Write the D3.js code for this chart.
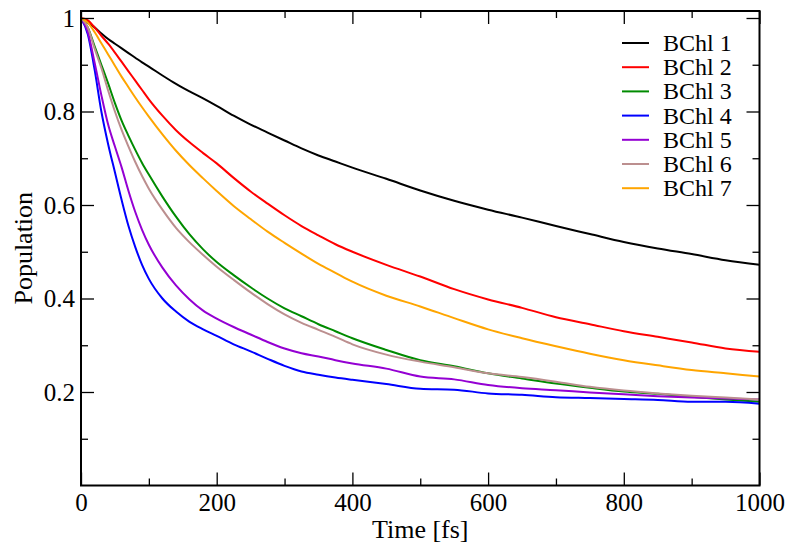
<!DOCTYPE html>
<html><head><meta charset="utf-8">
<script src="https://cdn.jsdelivr.net/npm/d3@7"></script>
<style>body{margin:0;background:#fff}svg{display:block}
text{font-family:'Liberation Serif','Times New Roman',serif !important;}</style>
</head><body>
<svg id="c" width="795" height="552"></svg>
<script>
const times = [0,10,20,30,40,50,60,70,80,90,100,120,140,160,180,200,225,250,275,300,325,350,375,400,450,500,550,600,650,700,750,800,850,900,950,1000];
const bchl1 = [1.0,0.99,0.98,0.967,0.955,0.945,0.935,0.925,0.915,0.905,0.896,0.877,0.859,0.843,0.828,0.812,0.791,0.772,0.755,0.738,0.721,0.706,0.693,0.68,0.656,0.631,0.609,0.59,0.573,0.555,0.538,0.521,0.507,0.495,0.482,0.472];
const bchl2 = [1.0,0.995,0.98,0.962,0.945,0.926,0.906,0.886,0.866,0.846,0.826,0.791,0.76,0.734,0.711,0.689,0.658,0.629,0.603,0.578,0.555,0.535,0.516,0.5,0.472,0.447,0.42,0.398,0.38,0.36,0.345,0.33,0.318,0.306,0.293,0.286];
const bchl3 = [1.0,0.98,0.94,0.9,0.86,0.818,0.78,0.748,0.718,0.69,0.665,0.618,0.575,0.537,0.505,0.478,0.45,0.424,0.4,0.379,0.362,0.345,0.33,0.315,0.29,0.268,0.255,0.24,0.229,0.218,0.209,0.201,0.196,0.19,0.184,0.179];
const bchl4 = [1.0,0.965,0.89,0.8,0.73,0.67,0.61,0.555,0.51,0.472,0.442,0.4,0.372,0.35,0.334,0.32,0.302,0.287,0.271,0.256,0.244,0.237,0.231,0.226,0.217,0.207,0.205,0.197,0.194,0.189,0.187,0.185,0.183,0.179,0.179,0.175];
const bchl5 = [1.0,0.97,0.905,0.835,0.772,0.725,0.68,0.63,0.585,0.547,0.515,0.466,0.428,0.398,0.374,0.357,0.339,0.323,0.307,0.293,0.283,0.276,0.268,0.261,0.25,0.233,0.227,0.215,0.208,0.204,0.199,0.195,0.191,0.188,0.186,0.184];
const bchl6 = [1.0,0.98,0.935,0.893,0.845,0.8,0.76,0.725,0.692,0.662,0.635,0.59,0.551,0.52,0.493,0.468,0.44,0.413,0.388,0.366,0.348,0.333,0.318,0.302,0.28,0.265,0.253,0.24,0.232,0.222,0.211,0.203,0.197,0.192,0.188,0.184];
const bchl7 = [1.0,0.99,0.97,0.946,0.922,0.898,0.874,0.852,0.83,0.809,0.789,0.751,0.716,0.685,0.657,0.63,0.598,0.57,0.543,0.519,0.496,0.474,0.455,0.436,0.406,0.383,0.358,0.334,0.315,0.298,0.282,0.268,0.257,0.247,0.24,0.233];
const seriesNames = ["BChl 1","BChl 2","BChl 3","BChl 4","BChl 5","BChl 6","BChl 7"];
const seriesColors = ["#000000","#ff0000","#008b00","#0000ff","#9400d3","#bc8f8f","#ffa500"];
const xTicks = [0,200,400,600,800,1000];
const yTicks = [0.2,0.4,0.6,0.8,1];
const xLabel = "Time [fs]", yLabel = "Population";

const allSeries = [bchl1,bchl2,bchl3,bchl4,bchl5,bchl6,bchl7];
const svg = d3.select("#c");
const L = 81, R = 759.5, T = 11, B = 485.5;
const x = d3.scaleLinear().domain([0,1000]).range([L,R]);
const y = d3.scaleLinear().domain([0,1]).range([B,18]);
const font = "'Liberation Serif','Times New Roman',serif";

const g = svg.append("g");
const line = d3.line().x((d,i)=>x(times[i])).y(d=>y(d)).curve(d3.curveMonotoneX);
svg.append("clipPath").attr("id","pc").append("rect").attr("x",L).attr("y",T).attr("width",R-L).attr("height",B-T);
allSeries.forEach((s,k)=>{
  g.append("path").attr("d",line(s)).attr("fill","none").attr("stroke",seriesColors[k]).attr("stroke-width",2).attr("clip-path","url(#pc)");
});

const minorX = d3.range(100,1000,200);
const minorY = [0.1,0.3,0.5,0.7,0.9];
function addAxis(axisFn, scale, major, minor, transform, labels){
  const a = svg.append("g").attr("transform",transform);
  a.call(axisFn(scale).tickValues(major).tickSize(-13).tickFormat(labels ? d3.format("") : ""));
  a.attr("font-family",font).attr("font-size",25);
  a.select(".domain").remove();
  a.selectAll(".tick line").attr("stroke","#000").attr("stroke-width",1.3);
  a.selectAll(".tick text").style("font-family",font).style("font-size","25px").attr("fill","#000");
  const m = svg.append("g").attr("transform",transform);
  m.call(axisFn(scale).tickValues(minor).tickSize(-7).tickFormat(""));
  m.select(".domain").remove();
  m.selectAll(".tick line").attr("stroke","#000").attr("stroke-width",1.3);
  return a;
}
const ax = addAxis(d3.axisBottom, x, xTicks, minorX, `translate(0,${B})`, true);
ax.selectAll(".tick text").attr("dy",null).attr("y",25);
addAxis(d3.axisTop, x, xTicks, minorX, `translate(0,${T})`, false);
const ay = addAxis(d3.axisLeft, y, yTicks, minorY, `translate(${L},0)`, true);
ay.selectAll(".tick text").attr("x",-6).attr("dy","0.33em");
addAxis(d3.axisRight, y, yTicks, minorY, `translate(${R},0)`, false);

svg.append("rect").attr("x",L).attr("y",T).attr("width",R-L).attr("height",B-T)
  .attr("fill","none").attr("stroke","#000").attr("stroke-width",2);

svg.append("text").attr("x",(L+R)/2).attr("y",538).attr("text-anchor","middle")
  .style("font-family",font).style("font-size","26px").text(xLabel);
svg.append("text").attr("transform",`translate(32,${(T+B)/2}) rotate(-90)`).attr("text-anchor","middle")
  .style("font-family",font).style("font-size","26px").text(yLabel);

const lg = svg.append("g");
seriesNames.forEach((n,k)=>{
  const yy = 43 + k*24.2;
  lg.append("line").attr("x1",622).attr("x2",649).attr("y1",yy).attr("y2",yy)
    .attr("stroke",seriesColors[k]).attr("stroke-width",2);
  lg.append("text").attr("x",663).attr("y",yy+8).style("font-family",font).style("font-size","24px").text(n);
});
</script>
</body></html>
